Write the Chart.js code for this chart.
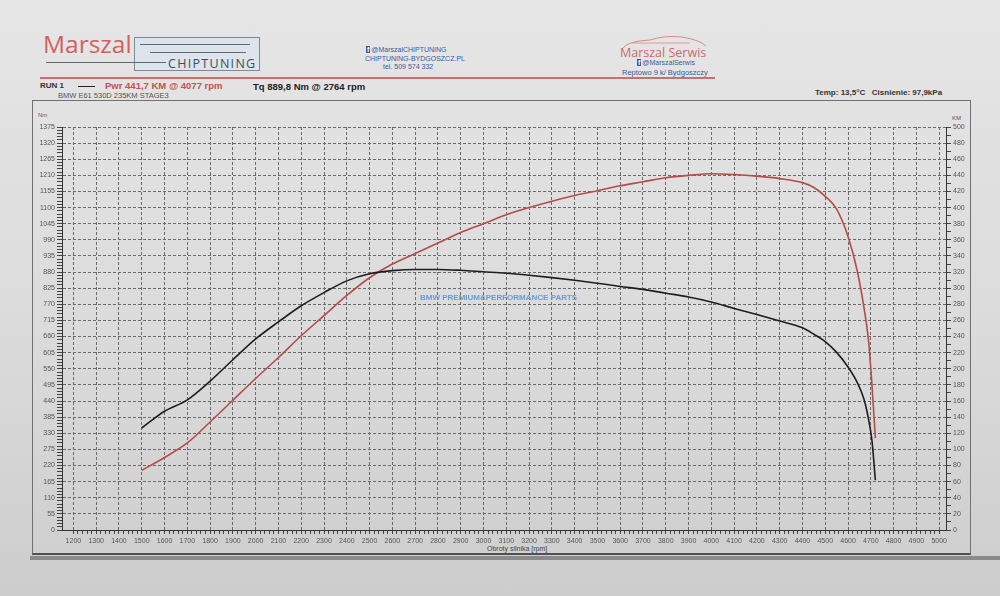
<!DOCTYPE html>
<html>
<head>
<meta charset="utf-8">
<script src="https://cdn.jsdelivr.net/npm/chart.js@4"></script>
<style>
  body {
    margin: 0;
    width: 1000px;
    height: 596px;
    overflow: hidden;
    position: relative;
    background: linear-gradient(#e6e6e6, #dadada 60%, #cdcdcd);
    font-family: "Liberation Sans", Arial, sans-serif;
  }
  .t { position: absolute; white-space: nowrap; }
  #frame {
    position: absolute; left: 32px; top: 100px; width: 937px; height: 452px;
    border: 1px solid #707070; border-bottom: 2px solid #505050;
  }
  #wrap { position: absolute; left: 0; top: 0; width: 1000px; height: 596px; }
  .fb { display: inline-block; background: #3b5a9a; color: #fff; font-weight: bold; padding: 0 1px; margin-right: 1px; }
</style>
</head>
<body>
<div id="frame"></div>
<div style="position:absolute;left:30px;top:556px;width:970px;height:4px;background:#8a8a8a"></div>

<!-- header: left logo -->
<div style="position:absolute;left:134px;top:37px;width:124px;height:32px;background:#dde4eb;border:1px solid #7d8b98"></div>
<div style="position:absolute;left:140px;top:44px;width:110px;height:1px;background:#5b6a78"></div>
<div style="position:absolute;left:150px;top:52px;width:96px;height:1px;background:#5b6a78"></div>
<div style="position:absolute;left:46px;top:62px;width:120px;height:1px;background:#5b6a78"></div>
<div class="t" style="left:43px;top:27px;font-family:'Open Sans';font-size:24.5px;color:#d2615d">Marszal</div>
<div class="t" style="left:168px;top:55px;font-family:'Open Sans';font-size:12.5px;letter-spacing:1.3px;color:#3f4e5c">CHIPTUNING</div>

<!-- header: contact -->
<div class="t" style="left:366px;top:46px;font-size:7px;color:#3b5a9a"><span class="fb">f</span>@MarszalCHIPTUNING</div>
<div class="t" style="left:365px;top:55px;font-size:7px;color:#3b5a9a">CHIPTUNING-BYDGOSZCZ.PL</div>
<div class="t" style="left:383px;top:63px;font-size:7px;color:#3b5a9a">tel. 509 574 332</div>

<!-- header: right logo -->
<svg style="position:absolute;left:620px;top:34px" width="90" height="16">
  <path d="M3 14 Q8 7 30 6 Q45 1 62 3 Q80 6 86 12" fill="none" stroke="#d98a88" stroke-width="1"/>
  <path d="M12 9 L70 9" stroke="#d98a88" stroke-width="0.8"/>
</svg>
<div class="t" style="left:620px;top:44px;font-family:'Open Sans';font-size:12.5px;color:#c96b69">Marszal Serwis</div>
<div class="t" style="left:637px;top:59px;font-size:7px;color:#3b5a9a"><span class="fb">f</span>@MarszalSerwis</div>
<div class="t" style="left:622px;top:68px;font-size:7.5px;color:#3b5a9a">Reptowo 9 k/ Bydgoszczy</div>

<div style="position:absolute;left:40px;top:77px;width:675px;height:2px;background:#c8706e"></div>

<!-- run info -->
<div class="t" style="left:40px;top:81px;font-size:8px;font-weight:bold;color:#333">RUN 1</div>
<div style="position:absolute;left:78px;top:86px;width:17px;height:1px;background:#222"></div>
<div class="t" style="left:105px;top:80px;font-size:9.5px;font-weight:bold;color:#c4514e">Pwr 441,7 KM @ 4077 rpm</div>
<div class="t" style="left:253px;top:81px;font-size:9.5px;font-weight:bold;color:#222">Tq 889,8 Nm @ 2764 rpm</div>
<div class="t" style="left:58px;top:91px;font-size:7.5px;color:#555">BMW E61 530D 235KM STAGE3</div>
<div class="t" style="left:815px;top:88px;font-size:8px;font-weight:bold;color:#333">Temp: 13,5°C &nbsp; Cisnienie: 97,9kPa</div>

<div class="t" style="left:38px;top:112px;font-size:6px;color:#555">Nm</div>
<div class="t" style="left:952px;top:115px;font-size:6px;color:#555">KM</div>
<div class="t" style="left:487px;top:545px;font-size:7px;color:#444">Obroty silnika [rpm]</div>

<div id="wrap"><canvas id="dyno" width="1000" height="596"></canvas></div>
<div class="t" style="left:420px;top:293px;font-size:8px;font-weight:bold;color:#6d9ad2">BMW PREMIUM&amp;PERFORMANCE PARTS</div>

<script>
// engine speed [rpm]
const rpm = [1500, 1600, 1700, 1800, 1900, 2000, 2100, 2200, 2300, 2400,
  2500, 2600, 2700, 2800, 2900, 3000, 3100, 3200, 3300, 3400,
  3500, 3600, 3700, 3800, 3900, 4000, 4100, 4200, 4300, 4400,
  4450, 4500, 4550, 4600, 4640, 4670, 4690, 4705, 4720];
// torque [Nm]
const torque = [348, 405, 444, 508, 581, 652, 710, 765, 810, 850,
  874, 885, 889, 889, 886, 881, 876, 869, 861, 852,
  842, 831, 821, 808, 795, 778, 756, 735, 713, 690,
  668, 643, 606, 556, 504, 446, 378, 305, 170];
// power [KM]
const power = [74, 90, 108, 134, 161, 188, 214, 241, 266, 291,
  313, 330, 343, 356, 369, 380, 391, 400, 408, 415,
  421, 427, 432, 437, 440, 442, 441, 439, 436, 431,
  425, 414, 398, 364, 322, 276, 235, 180, 114];

const rpmTicks = [1200, 1300, 1400, 1500, 1600, 1700, 1800, 1900, 2000, 2100,
  2200, 2300, 2400, 2500, 2600, 2700, 2800, 2900, 3000, 3100, 3200, 3300,
  3400, 3500, 3600, 3700, 3800, 3900, 4000, 4100, 4200, 4300, 4400, 4500,
  4600, 4700, 4800, 4900, 5000];
const nmTicks = [0, 55, 110, 165, 220, 275, 330, 385, 440, 495, 550, 605, 660,
  715, 770, 825, 880, 935, 990, 1045, 1100, 1155, 1210, 1265, 1320, 1375];
const kmTicks = [0, 20, 40, 60, 80, 100, 120, 140, 160, 180, 200, 220, 240,
  260, 280, 300, 320, 340, 360, 380, 400, 420, 440, 460, 480, 500];

const tickFont = { family: "Liberation Sans", size: 7 };

// major ticks from the lists, minor ones in between
function withMinor(major, steps) {
  const out = [];
  for (let i = 0; i < major.length; i++) {
    out.push({ value: major[i], major: true });
    if (i < major.length - 1) {
      const d = (major[i + 1] - major[i]) / steps;
      for (let k = 1; k < steps; k++) out.push({ value: major[i] + d * k });
    }
  }
  return out;
}

new Chart(document.getElementById("dyno"), {
  type: "line",
  data: {
    datasets: [
      {
        label: "Tq",
        data: rpm.map((r, i) => ({ x: r, y: torque[i] })),
        yAxisID: "y",
        borderColor: "#1e1e1e",
        borderWidth: 1.6,
      },
      {
        label: "Pwr",
        data: rpm.map((r, i) => ({ x: r, y: power[i] })),
        yAxisID: "y1",
        borderColor: "#b44c4a",
        borderWidth: 1.6,
      },
    ],
  },
  options: {
    responsive: false,
    animation: false,
    devicePixelRatio: 1,
    layout: { padding: { top: 127, left: 0, right: 0, bottom: 0 } },
    elements: { point: { radius: 0 }, line: { cubicInterpolationMode: "monotone" } },
    plugins: { legend: { display: false }, tooltip: { enabled: false } },
    scales: {
      x: {
        type: "linear",
        min: 1150,
        max: 5030,
        afterBuildTicks: (s) => { s.ticks = withMinor(rpmTicks, 5); },
        afterFit: (s) => { s.height = 66; },
        ticks: {
          autoSkip: false, maxRotation: 0, padding: 3, color: "#555", font: tickFont,
          callback: (v) => (rpmTicks.includes(v) ? String(v) : ""),
        },
        grid: {
          color: (c) => (c.tick && c.tick.major ? "#6a6a6a" : "transparent"),
          tickColor: "#444", tickLength: 4, tickBorderDash: [],
        },
        border: { color: "#333", width: 1, dash: [3, 2] },
      },
      y: {
        position: "left",
        min: 0,
        max: 1375,
        afterBuildTicks: (s) => { s.ticks = withMinor(nmTicks, 5); },
        afterFit: (s) => { s.width = 62; },
        ticks: {
          autoSkip: false, padding: 2, color: "#555", font: tickFont,
          callback: (v) => (nmTicks.includes(v) ? String(v) : ""),
        },
        grid: {
          color: (c) => (c.tick && c.tick.major ? "#6a6a6a" : "transparent"),
          tickColor: "#444", tickLength: 5, tickBorderDash: [],
        },
        border: { color: "#333", width: 1, dash: [3, 2] },
      },
      y1: {
        position: "right",
        min: 0,
        max: 500,
        afterBuildTicks: (s) => { s.ticks = withMinor(kmTicks, 2); },
        afterFit: (s) => { s.width = 54; },
        ticks: {
          autoSkip: false, padding: 2, color: "#555", font: tickFont,
          callback: (v) => (kmTicks.includes(v) ? String(v) : ""),
        },
        grid: { drawOnChartArea: false, tickColor: "#444", tickLength: 5, tickBorderDash: [] },
        border: { color: "#333", width: 1 },
      },
    },
  },
});
</script>
</body>
</html>
